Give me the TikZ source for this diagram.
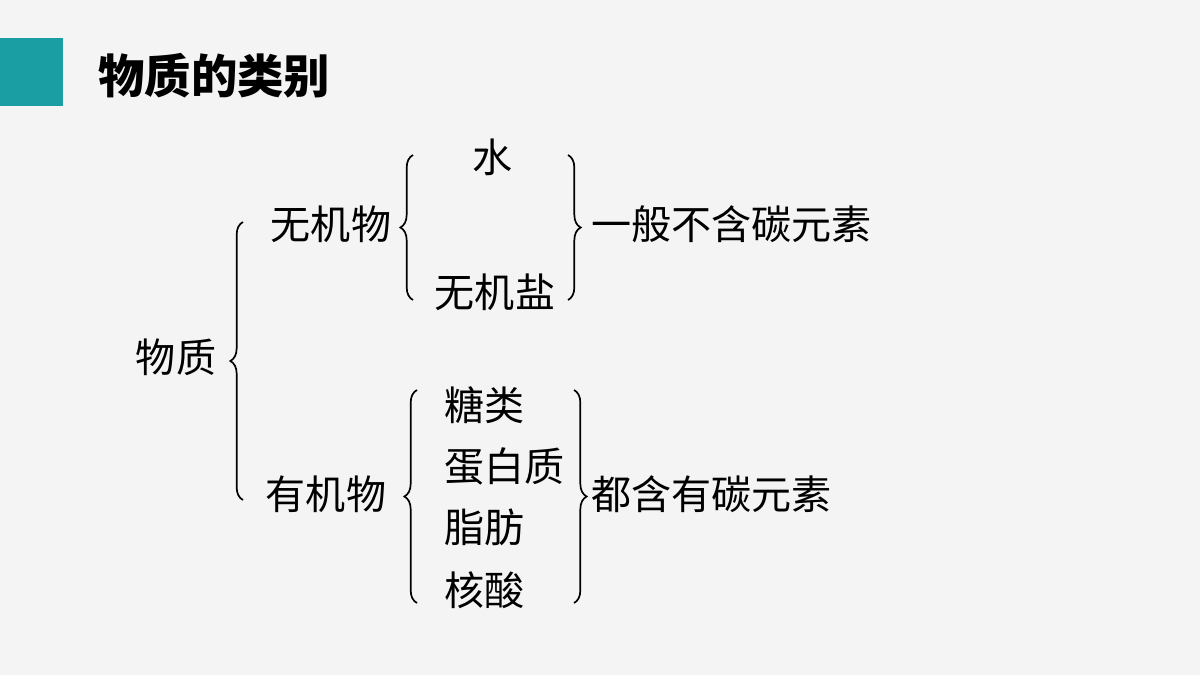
\documentclass[tikz,border=0pt]{standalone}
\usepackage{fontspec}
\setmainfont{Noto Sans CJK SC}
\usetikzlibrary{decorations.pathreplacing}
\definecolor{teal1}{HTML}{1A9EA3}
\definecolor{bg}{HTML}{F4F4F4}
\tikzset{
  txt/.style={font=\fontsize{28.5}{32}\selectfont, inner sep=0pt},
  lbrace/.style={decorate, decoration={brace, amplitude=9pt}, line width=1.2pt},
}
\begin{document}
\begin{tikzpicture}[x=0.025cm,y=-0.025cm]
\fill[bg] (0,0) rectangle (1200,675);
\useasboundingbox (0,0) rectangle (1200,675);
\fill[teal1] (0,38) rectangle (63,106);
\node[anchor=west, inner sep=0pt, font=\bfseries\fontsize{33}{36}\selectfont] (title) at (98,76) {物质的类别};

\node[txt] (wz) at (176,357) {物质};
\node[txt] (wjw) at (331,224) {无机物};
\node[txt] (yjw) at (326,494) {有机物};
\node[txt] (shui) at (493,157) {水};
\node[txt] (wjy) at (495,292) {无机盐};
\node[txt,anchor=west] (tl) at (444,405) {糖类};
\node[txt,anchor=west] (dbz) at (444,466) {蛋白质};
\node[txt,anchor=west] (zf) at (444,527) {脂肪};
\node[txt,anchor=west] (hs) at (444,590) {核酸};
\node[txt,anchor=west] (c1) at (591,224) {一般不含碳元素};
\node[txt,anchor=west] (c2) at (591,494) {都含有碳元素};

% braces
\draw[lbrace] (243,500) -- (243,222);
\draw[lbrace] (413,300) -- (413,155);
\draw[lbrace] (568,155) -- (568,300);
\draw[lbrace] (417,603) -- (417,390);
\draw[lbrace] (574,390) -- (574,603);
\end{tikzpicture}
\end{document}
